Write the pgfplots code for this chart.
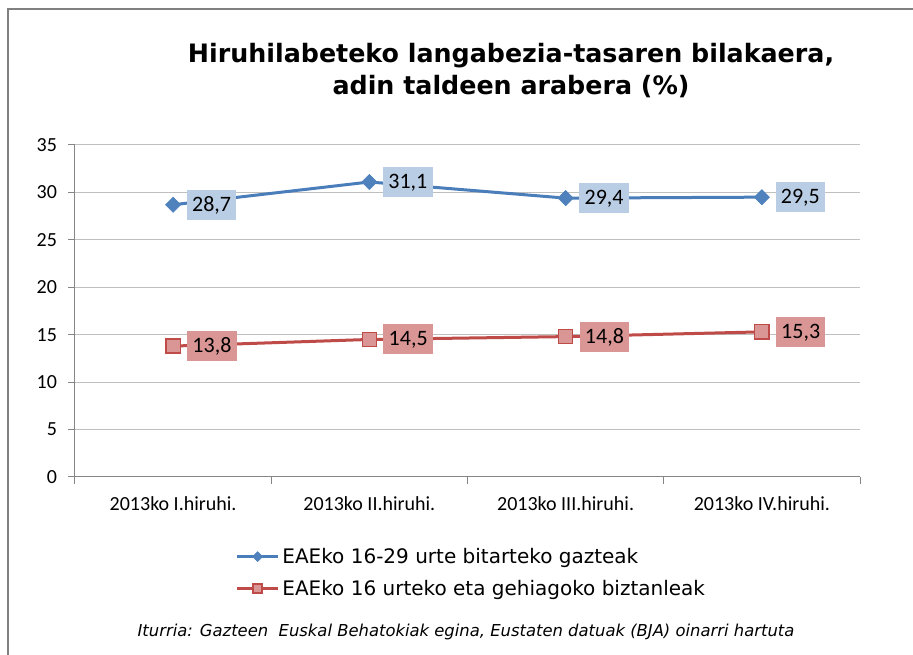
\documentclass[border=0pt]{standalone}
\usepackage{fontspec}
\setmainfont{DejaVu Sans}
\newfontfamily\carlito{Carlito}
\usepackage{pgfplots}
\pgfplotsset{compat=1.18}
\definecolor{blueline}{HTML}{4A7EBB}
\definecolor{bluemark}{HTML}{4F81BD}
\definecolor{bluelabel}{HTML}{B9CDE5}
\definecolor{redline}{HTML}{BE4B48}
\definecolor{redfill}{HTML}{D99694}
\definecolor{redlabel}{HTML}{D99694}
\definecolor{framegray}{HTML}{808080}
\definecolor{axisgray}{HTML}{868686}
\definecolor{gridgray}{HTML}{BFBFBF}
\begin{document}
\begin{tikzpicture}
\begin{scope}[shift={(-56.25pt,357.75pt)},x=0.75pt,y=-0.75pt]
\path[use as bounding box] (0,0) rectangle (913,655);
\draw[line width=1.5pt, color=framegray] (8.5,655) -- (8.5,9) -- (913,9);
\node[font=\bfseries\fontsize{19}{24}\selectfont, align=center] at (511,71) {Hiruhilabeteko langabezia-tasaren bilakaera,\\adin taldeen arabera (\%)};
\node[font=\itshape\fontsize{12.3}{14}\selectfont] at (466,632) {Iturria: Gazteen\ \ Euskal Behatokiak egina, Eustaten datuak (BJA) oinarri hartuta};
\end{scope}
\begin{axis}[at={(0,0)}, anchor=south west, scale only axis,
  width=588.75pt, height=249pt,
  xmin=-0.5, xmax=3.5, ymin=0, ymax=35,
  xtick={0,1,2,3},
  xticklabels={2013ko I.hiruhi., 2013ko II.hiruhi., 2013ko III.hiruhi., 2013ko IV.hiruhi.},
  minor xtick={-0.5,0.5,1.5,2.5,3.5},
  ytick={0,5,...,35},
  axis lines*=left,
  axis line style={color=axisgray, line width=0.75pt},
  ymajorgrids, grid style={color=gridgray, line width=0.75pt},
  tick align=outside, major tick length=5pt, minor tick length=5pt,
  tick style={color=axisgray, line width=0.75pt},
  major x tick style={draw=none},
  ticklabel style={font=\carlito\fontsize{15}{17}\selectfont},
  xticklabel style={yshift=-6pt},
  yticklabel style={xshift=-5pt},
  /pgf/number format/assume math mode=true,
  nodes near coords={\pgfmathprintnumber[use comma,fixed,fixed zerofill,precision=1,assume math mode=true]{\pgfplotspointmeta}},
  nodes near coords style={font=\carlito\fontsize{16.5}{18}\selectfont, anchor=west, xshift=10pt, inner xsep=4pt, inner ysep=0pt, text height=10.4pt, text depth=0.6pt, minimum height=22.5pt, text=black},
  legend style={at={(axis description cs:0.204,-0.205)}, anchor=north west, draw=none, fill=none, font=\fontsize{15}{17}\selectfont, row sep=7pt, cells={anchor=west}, inner sep=0pt},
  legend image code/.code={\draw[#1] (0pt,0pt) -- (31pt,0pt); \draw[#1, /tikz/every mark/.append style={scale=0.65}] plot coordinates {(15.5pt,0pt)};},
]
\addplot[color=blueline, line width=2.25pt, mark=square*, mark size=4pt,
  mark options={rotate=45, fill=bluemark, draw=bluemark, line width=0.5pt},
  nodes near coords style={fill=bluelabel}]
  coordinates {(0,28.7) (1,31.1) (2,29.4) (3,29.5)};
\addlegendentry{EAEko 16-29 urte bitarteko gazteak}
\addplot[color=redline, line width=2.25pt, mark=square*, mark size=5.3pt,
  mark options={fill=redfill, draw=redline, line width=1pt},
  nodes near coords style={fill=redlabel}]
  coordinates {(0,13.8) (1,14.5) (2,14.8) (3,15.3)};
\addlegendentry{EAEko 16 urteko eta gehiagoko biztanleak}
\end{axis}
\end{tikzpicture}
\end{document}
